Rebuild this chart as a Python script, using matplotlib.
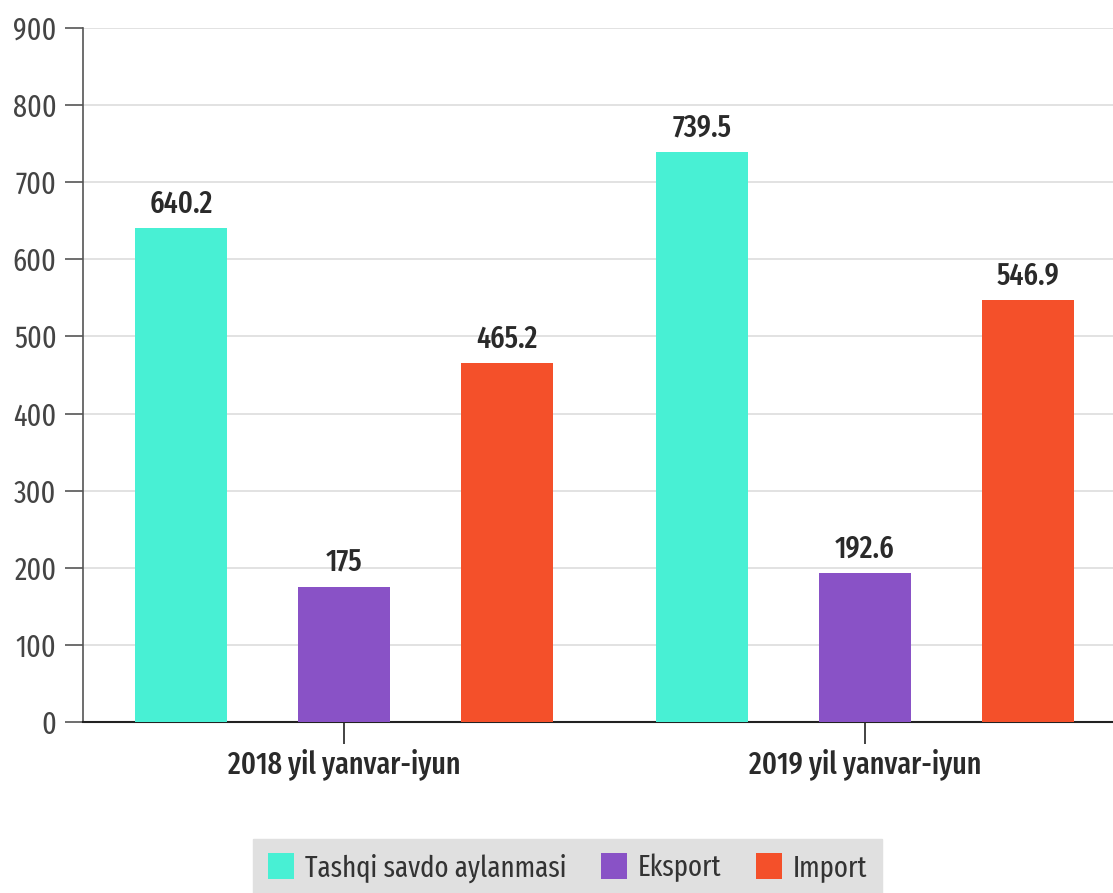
import numpy as np
import matplotlib.pyplot as plt

plt.rcParams['font.family'] = ['Fira Sans Extra Condensed', 'Lato', 'DejaVu Sans']

periods = ["2018 yil yanvar-iyun", "2019 yil yanvar-iyun"]
series = ["Tashqi savdo aylanmasi", "Eksport", "Import"]
turnover = [640.2, 739.5]
export = [175, 192.6]
imports = [465.2, 546.9]
colors = ["#48F0D4", "#8952C6", "#F4502A"]

fig = plt.figure(figsize=(11.13, 8.93), dpi=100)
ax = fig.add_axes([0.0746, 0.1915, 0.9254, 0.7771])

x = np.arange(len(periods))
offset = 0.313
width = 0.177
for i, (vals, name) in enumerate(zip([turnover, export, imports], series)):
    bars = ax.bar(x + (i - 1) * offset, vals, width, color=colors[i], label=name, zorder=3)
    for b, v in zip(bars, vals):
        ax.text(b.get_x() + b.get_width() / 2, v + 12, f"{v:g}", ha="center", va="bottom",
                fontsize=22, fontweight=500, color="#2a2a2a")

ax.set_xlim(-0.501, 1.476)
ax.set_ylim(0, 900)
ax.set_yticks(range(0, 901, 100))
ax.yaxis.grid(True, color="#dddddd", linewidth=1.2, zorder=0)
ax.set_xticks(x)
ax.set_xticklabels(periods, fontsize=22, fontweight=500, color="#2a2a2a")
ax.tick_params(axis="y", labelsize=22, labelcolor="#444444", length=13, width=1.2,
               color="#555555", pad=6)
ax.tick_params(axis="x", length=16, width=1.2, color="#222222", pad=3)
for s in ["top", "right"]:
    ax.spines[s].set_visible(False)
ax.spines["left"].set_color("#555555")
ax.spines["left"].set_linewidth(1.2)
ax.spines["bottom"].set_color("#222222")
ax.spines["bottom"].set_linewidth(1.5)

leg = fig.legend(loc="center", bbox_to_anchor=(0.51, 0.028), ncol=3, fontsize=21,
                 frameon=True, fancybox=False, facecolor="#e0e0e0", edgecolor="#e0e0e0",
                 handlelength=0.9, handleheight=1.0, handletextpad=0.35, columnspacing=1.2,
                 borderpad=0.5)
for t in leg.get_texts():
    t.set_color("#333333")
leg.get_frame().set_alpha(1)

fig.savefig("out.png", dpi=100)
